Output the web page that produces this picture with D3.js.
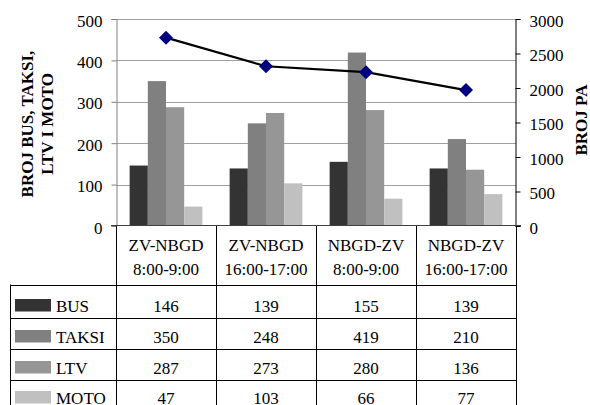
<!DOCTYPE html>
<html>
<head>
<meta charset="utf-8">
<script src="https://cdn.jsdelivr.net/npm/d3@7"></script>
<style>
  html, body { margin: 0; padding: 0; background: #fff; }
  svg { display: block; font-family: "Liberation Serif", "Times New Roman", serif; }
</style>
</head>
<body>
<svg id="chart" width="590" height="405"></svg>
<script>
// Traffic counts per direction and time window
const categories = [["ZV-NBGD", "8:00-9:00"], ["ZV-NBGD", "16:00-17:00"], ["NBGD-ZV", "8:00-9:00"], ["NBGD-ZV", "16:00-17:00"]];
const seriesNames = ["BUS", "TAKSI", "LTV", "MOTO"];
const busValues = [146, 139, 155, 139];
const taksiValues = [350, 248, 419, 210];
const ltvValues = [287, 273, 280, 136];
const motoValues = [47, 103, 66, 77];
const paValues = [2730, 2315, 2230, 1970];
const leftTicks = [0, 100, 200, 300, 400, 500];
const rightTicks = [0, 500, 1000, 1500, 2000, 2500, 3000];

const seriesValues = [busValues, taksiValues, ltvValues, motoValues];
const seriesColors = ["#333333", "#808080", "#969696", "#c0c0c0"];

const svg = d3.select("#chart");
const plot = { left: 116, right: 516, top: 19, bottom: 226 };
const catIdx = d3.range(categories.length);

const x0 = d3.scaleBand().domain(catIdx).range([plot.left, plot.right]).padding(0);
const x1 = d3.scaleBand().domain(d3.range(seriesNames.length))
  .range([0, x0.bandwidth()]).paddingInner(0).paddingOuter(0.75);
const yL = d3.scaleLinear().domain([0, 500]).range([plot.bottom, plot.top]);
const yR = d3.scaleLinear().domain([0, 3000]).range([plot.bottom, plot.top]);

// horizontal gridlines
svg.append("g").selectAll("line").data(leftTicks.filter(d => d > 0)).join("line")
  .attr("x1", plot.left).attr("x2", plot.right)
  .attr("y1", d => Math.round(yL(d)) + 0.5).attr("y2", d => Math.round(yL(d)) + 0.5)
  .attr("stroke", "#a0a0a0").attr("stroke-width", 1);

// bars
const groups = svg.append("g").selectAll("g").data(catIdx).join("g")
  .attr("transform", i => `translate(${x0(i)},0)`);
groups.selectAll("rect")
  .data(i => seriesValues.map((vals, s) => ({ s, v: vals[i] })))
  .join("rect")
  .attr("x", d => x1(d.s))
  .attr("width", x1.bandwidth())
  .attr("y", d => yL(d.v))
  .attr("height", d => plot.bottom - yL(d.v))
  .attr("fill", d => seriesColors[d.s]);

// left axis
const leftAxis = d3.axisLeft(yL).tickValues(leftTicks).tickSize(5).tickPadding(9).tickFormat(d3.format("d"));
const gL = svg.append("g").attr("transform", `translate(${plot.left + 0.5},0)`).call(leftAxis);
gL.select(".domain").attr("stroke", "#808080");
gL.selectAll(".tick line").attr("stroke", "#808080");
gL.selectAll(".tick text").attr("font-size", 17).attr("fill", "#000")
  .attr("font-family", "Liberation Serif, Times New Roman, serif").attr("dy", "0.42em");

// right axis
const rightAxis = d3.axisRight(yR).tickValues(rightTicks).tickSize(5).tickPadding(9).tickFormat(d3.format("d"));
const gR = svg.append("g").attr("transform", `translate(${plot.right - 0.5},0)`).call(rightAxis);
gR.select(".domain").attr("stroke", "#000");
gR.selectAll(".tick line").attr("stroke", "#000");
gR.selectAll(".tick text").attr("font-size", 17).attr("fill", "#000")
  .attr("font-family", "Liberation Serif, Times New Roman, serif").attr("dy", "0.42em");

// baseline of the category axis
svg.append("line")
  .attr("x1", plot.left - 5).attr("x2", plot.right + 5)
  .attr("y1", plot.bottom - 0.5).attr("y2", plot.bottom - 0.5)
  .attr("stroke", "#404040").attr("stroke-width", 1);

// PA line with diamond markers
const line = d3.line().x(i => x0(i) + x0.bandwidth() / 2).y(i => yR(paValues[i]));
svg.append("path").datum(catIdx).attr("d", line)
  .attr("fill", "none").attr("stroke", "#000").attr("stroke-width", 2.2);
svg.append("g").selectAll("path").data(catIdx).join("path")
  .attr("transform", i => `translate(${x0(i) + x0.bandwidth() / 2},${yR(paValues[i])})`)
  .attr("d", "M0,-7L7,0L0,7L-7,0Z")
  .attr("fill", "#000080");

// axis titles
const leftTitle = svg.append("text")
  .attr("transform", "translate(33,124) rotate(-90)")
  .attr("text-anchor", "middle").attr("font-size", 17).attr("font-weight", "bold");
leftTitle.append("tspan").attr("x", 0).attr("y", 0).text("BROJ BUS, TAKSI,");
leftTitle.append("tspan").attr("x", 0).attr("y", 20).text("LTV I MOTO");

svg.append("text")
  .attr("transform", "translate(587,120) rotate(-90)")
  .attr("text-anchor", "middle").attr("font-size", 17).attr("font-weight", "bold")
  .text("BROJ PA");

// data table under the plot
const tableLeft = 10;
const headerTop = plot.bottom;
const headerBottom = 284.5;
const rowHeights = [33, 31, 31, 30];
const rowTops = [headerBottom];
rowHeights.forEach((h, i) => rowTops.push(rowTops[i] + h));

const table = svg.append("g").attr("stroke", "#000").attr("stroke-width", 1);
// column dividers in header and body
x0.domain().concat([categories.length]).forEach(i => {
  const xx = Math.round(i < categories.length ? x0(i) : plot.right) + 0.5;
  table.append("line").attr("x1", xx).attr("x2", xx).attr("y1", headerTop).attr("y2", 410);
});
// left edge of legend column
table.append("line").attr("x1", tableLeft + 0.5).attr("x2", tableLeft + 0.5)
  .attr("y1", headerBottom).attr("y2", 410);
// row separators (the last row runs past the bottom edge)
rowTops.slice(0, rowHeights.length).forEach(t => {
  table.append("line")
    .attr("x1", tableLeft).attr("x2", plot.right + 1)
    .attr("y1", Math.round(t) + 0.5).attr("y2", Math.round(t) + 0.5);
});

// header labels
const header = svg.append("g").attr("font-size", 17).attr("text-anchor", "middle");
catIdx.forEach(i => {
  const cx = x0(i) + x0.bandwidth() / 2;
  header.append("text").attr("x", cx).attr("y", 251).text(categories[i][0]);
  header.append("text").attr("x", cx).attr("y", 275).text(categories[i][1]);
});

// legend keys and values
const body = svg.append("g").attr("font-size", 17);
seriesNames.forEach((name, s) => {
  const base = rowTops[s] + rowHeights[s] - 6;
  body.append("rect").attr("x", 15).attr("y", base - 12.5).attr("width", 36).attr("height", 12.5)
    .attr("fill", seriesColors[s]);
  body.append("text").attr("x", 56).attr("y", base).text(name);
  catIdx.forEach(i => {
    body.append("text").attr("x", x0(i) + x0.bandwidth() / 2).attr("y", base)
      .attr("text-anchor", "middle").text(seriesValues[s][i]);
  });
});
</script>
</body>
</html>
